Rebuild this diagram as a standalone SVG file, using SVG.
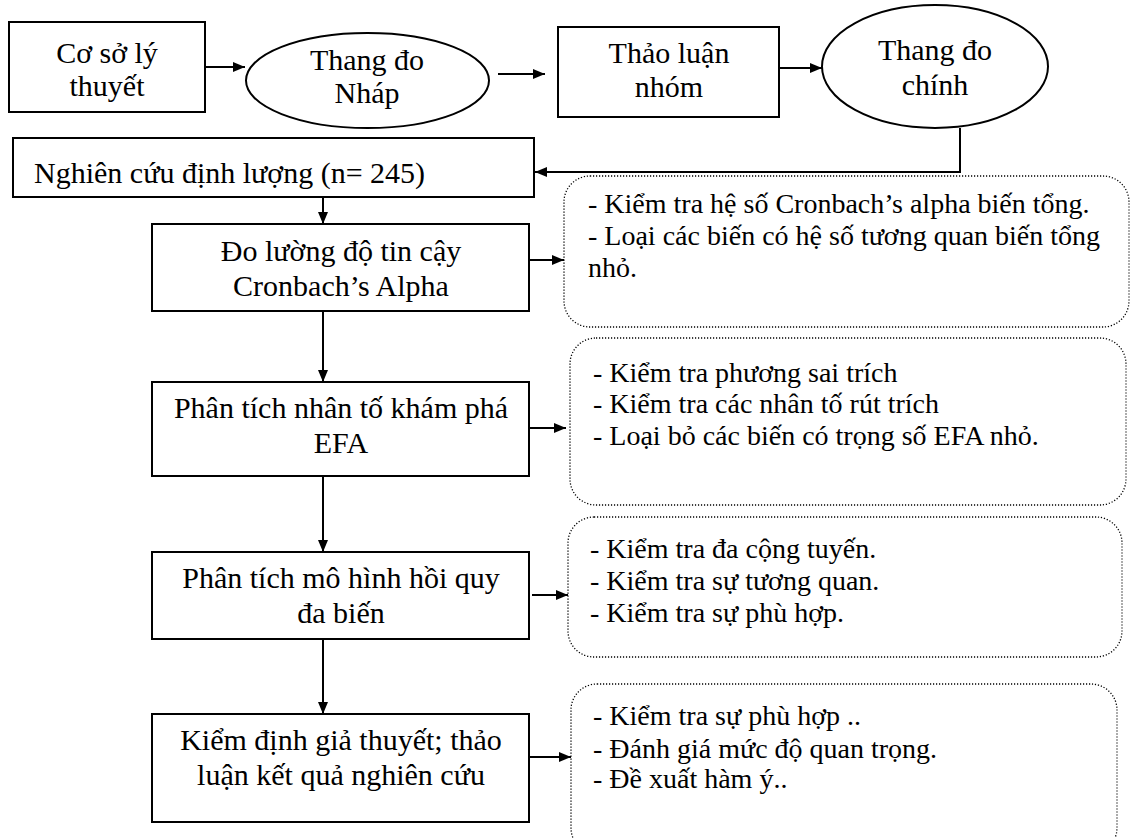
<svg xmlns="http://www.w3.org/2000/svg" width="1131" height="838" viewBox="0 0 1131 838">
<defs>
<marker id="ah" markerWidth="12" markerHeight="10" refX="12" refY="5" orient="auto" markerUnits="userSpaceOnUse">
<path d="M0,0 L12,5 L0,10 Z" fill="#000"/>
</marker>
<style>
.box{fill:#fff;stroke:#000;stroke-width:2}
.note{fill:#fff;stroke:#000;stroke-width:1.3;stroke-dasharray:1.2 1.8}
.t{font-family:"Liberation Serif","Times New Roman","DejaVu Serif",serif;font-size:30px;fill:#000}
.n{font-family:"Liberation Serif","Times New Roman","DejaVu Serif",serif;font-size:28px;fill:#000}
.c{stroke:#000;stroke-width:2;fill:none}
</style>
</defs>
<rect width="1131" height="838" fill="#fff"/>
<g id="connectors">
<line class="c" x1="205" y1="67" x2="245" y2="67" marker-end="url(#ah)"/>
<line class="c" x1="498" y1="74" x2="545" y2="74" marker-end="url(#ah)"/>
<line class="c" x1="780" y1="68" x2="822" y2="68" marker-end="url(#ah)"/>
<polyline class="c" points="960,128 960,172 535,172" marker-end="url(#ah)"/>
<line class="c" x1="323" y1="197" x2="323" y2="224" marker-end="url(#ah)"/>
<line class="c" x1="323" y1="311" x2="323" y2="382" marker-end="url(#ah)"/>
<line class="c" x1="323" y1="477" x2="323" y2="552" marker-end="url(#ah)"/>
<line class="c" x1="323" y1="639" x2="323" y2="714" marker-end="url(#ah)"/>
<line class="c" x1="530" y1="260" x2="564" y2="260" marker-end="url(#ah)"/>
<line class="c" x1="530" y1="428" x2="566" y2="428" marker-end="url(#ah)"/>
<line class="c" x1="532" y1="595" x2="568" y2="595" marker-end="url(#ah)"/>
<line class="c" x1="530" y1="757" x2="571" y2="757" marker-end="url(#ah)"/>
</g>
<g id="co-so-ly-thuyet">
<rect class="box" x="9" y="22" width="196" height="90"/>
<text class="t" x="107" y="63" text-anchor="middle">Cơ sở lý</text>
<text class="t" x="107" y="96" text-anchor="middle">thuyết</text>
</g>
<g id="thang-do-nhap">
<ellipse class="box" cx="367.5" cy="80.5" rx="121.5" ry="47.5"/>
<text class="t" x="367" y="70" text-anchor="middle">Thang đo</text>
<text class="t" x="367" y="103" text-anchor="middle">Nháp</text>
</g>
<g id="thao-luan-nhom">
<rect class="box" x="558" y="27" width="221" height="90"/>
<text class="t" x="669" y="63" text-anchor="middle">Thảo luận</text>
<text class="t" x="669" y="97" text-anchor="middle">nhóm</text>
</g>
<g id="thang-do-chinh">
<ellipse class="box" cx="935" cy="66.5" rx="113" ry="61.5"/>
<text class="t" x="935" y="60" text-anchor="middle">Thang đo</text>
<text class="t" x="935" y="95" text-anchor="middle">chính</text>
</g>
<g id="nghien-cuu-dinh-luong">
<rect class="box" x="13" y="138" width="521" height="59"/>
<text class="t" x="34" y="183">Nghiên cứu định lượng (n= 245)</text>
</g>
<g id="do-luong">
<rect class="box" x="152" y="224" width="377" height="87"/>
<text class="t" x="341" y="261" text-anchor="middle">Đo lường độ tin cậy</text>
<text class="t" x="341" y="296" text-anchor="middle">Cronbach’s Alpha</text>
</g>
<g id="efa">
<rect class="box" x="152" y="382" width="377" height="94"/>
<text class="t" x="341" y="418" text-anchor="middle">Phân tích nhân tố khám phá</text>
<text class="t" x="341" y="453" text-anchor="middle">EFA</text>
</g>
<g id="hoi-quy">
<rect class="box" x="152" y="552" width="377" height="87"/>
<text class="t" x="341" y="588" text-anchor="middle">Phân tích mô hình hồi quy</text>
<text class="t" x="341" y="623" text-anchor="middle">đa biến</text>
</g>
<g id="kiem-dinh">
<rect class="box" x="152" y="714" width="377" height="108"/>
<text class="t" x="341" y="750" text-anchor="middle">Kiểm định giả thuyết; thảo</text>
<text class="t" x="341" y="785" text-anchor="middle">luận kết quả nghiên cứu</text>
</g>
<g id="note-cronbach">
<rect class="note" x="564" y="176" width="565" height="151" rx="26"/>
<text class="n" x="588" y="213">- Kiểm tra hệ số Cronbach’s alpha biến tổng.</text>
<text class="n" x="588" y="245">- Loại các biến có hệ số tương quan biến tổng</text>
<text class="n" x="588" y="277">nhỏ.</text>
</g>
<g id="note-efa">
<rect class="note" x="570" y="338" width="556" height="167" rx="26"/>
<text class="n" x="593" y="382">- Kiểm tra phương sai trích</text>
<text class="n" x="593" y="413">- Kiểm tra các nhân tố rút trích</text>
<text class="n" x="593" y="445">- Loại bỏ các biến có trọng số EFA nhỏ.</text>
</g>
<g id="note-hoi-quy">
<rect class="note" x="568" y="517" width="554" height="140" rx="26"/>
<text class="n" x="590" y="558">- Kiểm tra đa cộng tuyến.</text>
<text class="n" x="590" y="590">- Kiểm tra sự tương quan.</text>
<text class="n" x="590" y="622">- Kiểm tra sự phù hợp.</text>
</g>
<g id="note-kiem-dinh">
<rect class="note" x="571" y="684" width="546" height="170" rx="26"/>
<text class="n" x="593" y="725">- Kiểm tra sự phù hợp ..</text>
<text class="n" x="593" y="758">- Đánh giá mức độ quan trọng.</text>
<text class="n" x="593" y="788">- Đề xuất hàm ý..</text>
</g>
</svg>
